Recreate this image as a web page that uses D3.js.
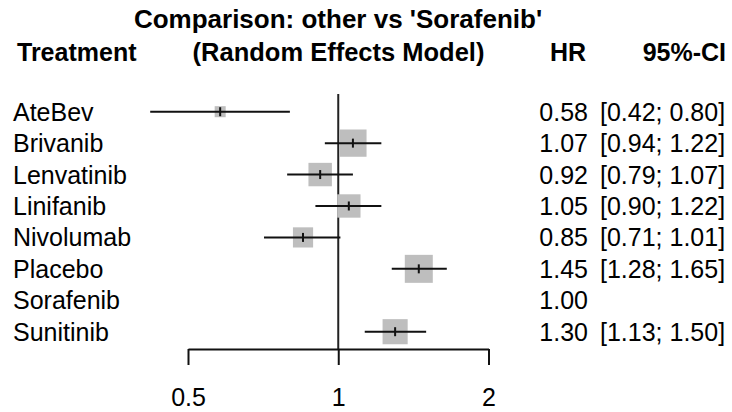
<!DOCTYPE html>
<html>
<head>
<meta charset="utf-8">
<script src="https://cdn.jsdelivr.net/npm/d3@7"></script>
<style>
  body { margin: 0; background: #fff; }
  svg text { font-family: "Liberation Sans", Arial, sans-serif; fill: #000; }
</style>
</head>
<body>
<svg id="forest"></svg>
<script>
// Network meta-analysis results, reference treatment Sorafenib
let treatments = ['AteBev', 'Brivanib', 'Lenvatinib', 'Linifanib', 'Nivolumab', 'Placebo', 'Sorafenib', 'Sunitinib'];
let hr = [0.58, 1.07, 0.92, 1.05, 0.85, 1.45, 1.00, 1.30];
let lower = [0.42, 0.94, 0.79, 0.90, 0.71, 1.28, null, 1.13];
let upper = [0.80, 1.22, 1.07, 1.22, 1.01, 1.65, null, 1.50];
let axisTicks = [0.5, 1, 2];

let width = 732;
let height = 412;

let svg = d3.select('#forest')
    .attr('width', width)
    .attr('height', height);

let rows = treatments.map((t, i) => ({
    name: t,
    hr: hr[i],
    lo: lower[i],
    hi: upper[i],
    // inverse variance weight, from the CI width
    w: lower[i] == null ? 0 : Math.pow(2 * 1.96 / Math.log(upper[i] / lower[i]), 2)
}));

// log scale for hazard ratio
let x = d3.scaleLog()
    .domain([0.5, 2])
    .range([188, 488.5]);

let y = d3.scalePoint()
    .domain(treatments)
    .range([111.7, 331.7]);

// box side proportional to sqrt(weight)
let boxSize = d3.scaleSqrt()
    .domain([0, d3.max(rows, d => d.w)])
    .range([0, 28]);

let fontSize = 25;
let lineW = 2;

// titles
svg.append('text')
    .attr('x', 338)
    .attr('y', 28)
    .attr('text-anchor', 'middle')
    .style('font-weight', 'bold')
    .style('font-size', '26px')
    .text("Comparison: other vs 'Sorafenib'");

let header = svg.append('g')
    .style('font-weight', 'bold')
    .style('font-size', fontSize + 'px');
header.append('text').attr('x', 17).attr('y', 61).text('Treatment');
header.append('text').attr('x', 338.5).attr('y', 61).attr('text-anchor', 'middle')
    .style('font-size', '25.5px').text('(Random Effects Model)');
header.append('text').attr('x', 586).attr('y', 61).attr('text-anchor', 'end').text('HR');
header.append('text').attr('x', 726).attr('y', 61).attr('text-anchor', 'end').text('95%-CI');

// reference line at HR = 1
svg.append('line')
    .attr('x1', x(1)).attr('x2', x(1))
    .attr('y1', 94).attr('y2', 349)
    .attr('stroke', '#222')
    .attr('stroke-width', lineW);

// treatment labels
svg.append('g')
    .selectAll('text')
    .data(rows)
    .join('text')
    .attr('x', 13)
    .attr('y', d => y(d.name) + 9)
    .style('font-size', fontSize + 'px')
    .text(d => d.name);

// boxes
let marks = svg.append('g');
marks.selectAll('rect')
    .data(rows.filter(d => d.lo != null))
    .join('rect')
    .attr('x', d => x(d.hr) - boxSize(d.w) / 2)
    .attr('y', d => y(d.name) - boxSize(d.w) / 2)
    .attr('width', d => boxSize(d.w))
    .attr('height', d => boxSize(d.w))
    .attr('fill', '#bebebe');

// confidence intervals
marks.selectAll('line.ci')
    .data(rows.filter(d => d.lo != null))
    .join('line')
    .attr('class', 'ci')
    .attr('x1', d => x(d.lo))
    .attr('x2', d => x(d.hi))
    .attr('y1', d => y(d.name))
    .attr('y2', d => y(d.name))
    .attr('stroke', '#111')
    .attr('stroke-width', lineW);

// estimate ticks
marks.selectAll('line.est')
    .data(rows.filter(d => d.lo != null))
    .join('line')
    .attr('class', 'est')
    .attr('x1', d => x(d.hr))
    .attr('x2', d => x(d.hr))
    .attr('y1', d => y(d.name) - 4.5)
    .attr('y2', d => y(d.name) + 4.5)
    .attr('stroke', '#111')
    .attr('stroke-width', lineW);

// HR and CI columns
let fmt = d3.format('.2f');
svg.append('g')
    .selectAll('text')
    .data(rows)
    .join('text')
    .attr('x', 588)
    .attr('y', d => y(d.name) + 9)
    .attr('text-anchor', 'end')
    .style('font-size', fontSize + 'px')
    .text(d => fmt(d.hr));

svg.append('g')
    .selectAll('text')
    .data(rows.filter(d => d.lo != null))
    .join('text')
    .attr('x', 600)
    .attr('y', d => y(d.name) + 9)
    .style('font-size', fontSize + 'px')
    .text(d => '[' + fmt(d.lo) + '; ' + fmt(d.hi) + ']');

// bottom axis
let axis = svg.append('g')
    .attr('transform', 'translate(0,349)')
    .call(d3.axisBottom(x).tickValues(axisTicks).tickFormat(d3.format('')).tickSize(16).tickPadding(23).tickSizeOuter(0));
axis.select('.domain').attr('stroke', '#111').attr('stroke-width', lineW);
axis.selectAll('.tick line').attr('stroke', '#111').attr('stroke-width', lineW);
axis.selectAll('.tick text')
    .style('font-size', fontSize + 'px')
    .style('font-family', '"Liberation Sans", Arial, sans-serif')
    .attr('fill', '#000');
</script>
</body>
</html>
